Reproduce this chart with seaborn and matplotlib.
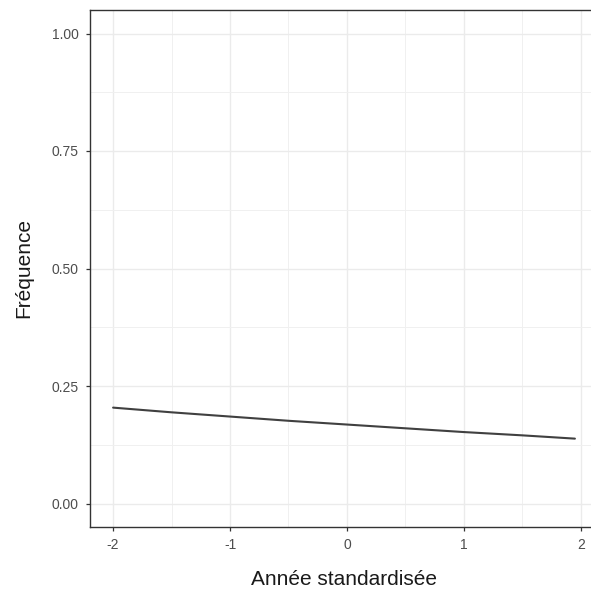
import matplotlib
matplotlib.use("Agg")
import matplotlib.pyplot as plt
import seaborn as sns
import pandas as pd
from matplotlib.ticker import MultipleLocator

annee = [-2.0, -1.5, -1.0, -0.5, 0.0, 0.5, 1.0, 1.5, 1.95]
frequence = [0.204, 0.194, 0.185, 0.176, 0.168, 0.160, 0.152, 0.145, 0.138]
x_ticks = [-2, -1, 0, 1, 2]
x_labels = ["-2", "-1", "0", "1", "2"]
y_ticks = [0.0, 0.25, 0.5, 0.75, 1.0]
y_labels = ["0.00", "0.25", "0.50", "0.75", "1.00"]

sns.set_theme(style="white")
plt.rcParams['font.family'] = ['Liberation Sans', 'DejaVu Sans']

df = pd.DataFrame({"annee": annee, "freq": frequence})

W, H = 591, 594
fig = plt.figure(figsize=(W / 100, H / 100), dpi=100)
left, right, top, bottom = 90, 598, 10, 527
ax = fig.add_axes([left / W, (H - bottom) / H, (right - left) / W, (bottom - top) / H])

sns.lineplot(data=df, x="annee", y="freq", ax=ax, color="#404040", linewidth=1.5)

ax.set_xlim(-2.1975, 2.1475)
ax.set_ylim(-0.05, 1.05)
ax.set_xticks(x_ticks)
ax.set_xticklabels(x_labels)
ax.set_yticks(y_ticks)
ax.set_yticklabels(y_labels)
ax.xaxis.set_minor_locator(MultipleLocator(0.5))
ax.yaxis.set_minor_locator(MultipleLocator(0.125))
ax.grid(which="major", color="#ebebeb", linewidth=1.0)
ax.grid(which="minor", color="#f0f0f0", linewidth=0.7)
ax.set_axisbelow(True)

for s in ax.spines.values():
    s.set_color("#333333")
    s.set_linewidth(1.0)

ax.tick_params(axis="both", which="major", length=3, width=0.9, color="#333333",
               labelcolor="#4d4d4d", labelsize=10, pad=5, left=True, bottom=True)
ax.tick_params(which="minor", length=0)

ax.set_xlabel("Année standardisée", fontsize=15, color="#1a1a1a", labelpad=13)
ax.set_ylabel("Fréquence", fontsize=15, color="#1a1a1a", labelpad=13)

fig.savefig("out.png", dpi=100)
